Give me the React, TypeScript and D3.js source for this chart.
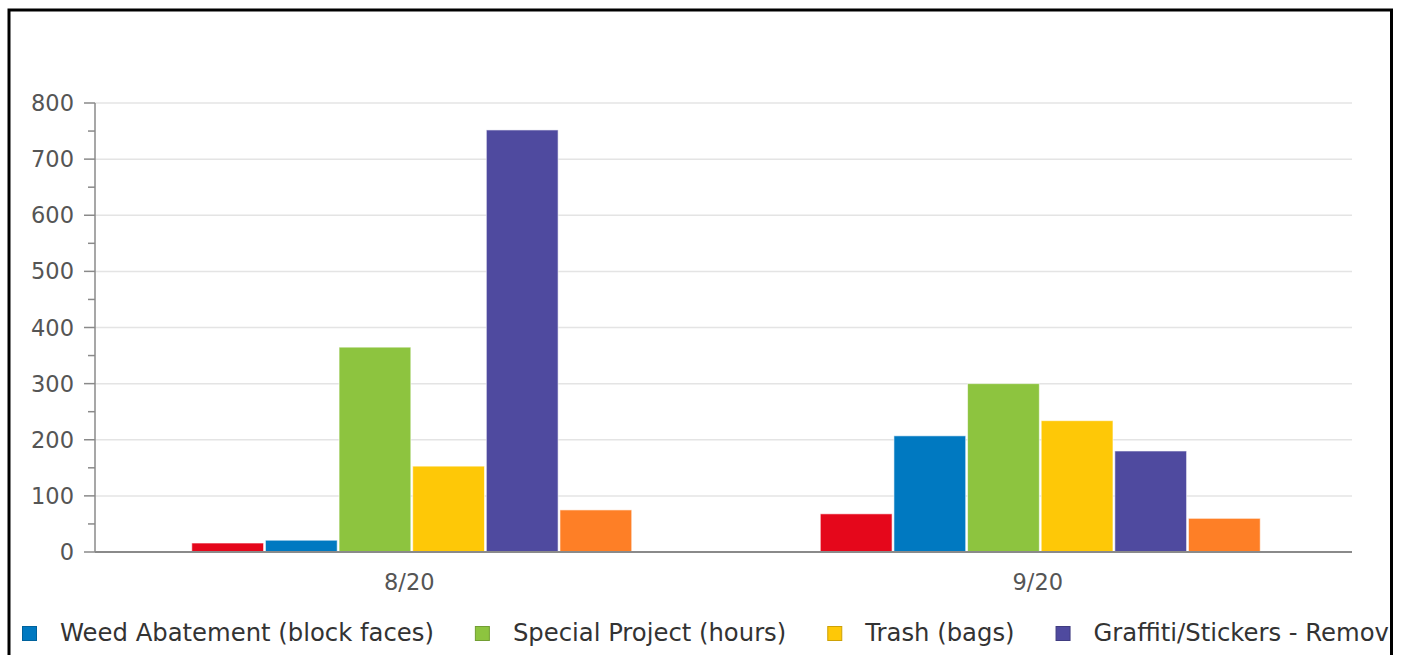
import React, { useEffect, useRef } from "react";
import * as d3 from "d3";

const categories = ["8/20", "9/20"];
const seriesNames = [
  "Cleaning (hours)",
  "Weed Abatement (block faces)",
  "Special Project (hours)",
  "Trash (bags)",
  "Graffiti/Stickers - Removal",
  "Other",
];
const seriesColors = ["#e5071b", "#0079c1", "#8dc43f", "#fec807", "#4f4a9f", "#fe7f26"];
const values: number[][] = [
  [16, 21, 365, 153, 752, 75],
  [68, 207, 300, 234, 180, 60],
];
const legendSeries = [1, 2, 3, 4];
const yTicks = [0, 100, 200, 300, 400, 500, 600, 700, 800];

export default function App() {
  const ref = useRef<SVGSVGElement>(null);
  useEffect(() => {
    const svg = d3.select(ref.current!);
    svg.selectAll("*").remove();
    const W = 1407, H = 655;
    const left = 95, right = 1352, top = 103, bottom = 552;
    const font = "DejaVu Sans, sans-serif";
    const textColor = "#555";

    const defs = svg.append("defs");
    defs.append("clipPath").attr("id", "frameClip")
      .append("rect").attr("x", 10.5).attr("y", 11.5).attr("width", 1379).attr("height", H);

    svg.append("rect").attr("width", W).attr("height", H).attr("fill", "#fff");

    const y = d3.scaleLinear().domain([0, 800]).range([bottom, top]);
    const x0 = d3.scaleBand<string>().domain(categories).range([left, right]);
    const bw = x0.bandwidth();
    const x1 = d3.scaleBand<number>().domain(d3.range(seriesNames.length))
      .range([bw * 0.154, bw * 0.854]).paddingInner(0.025);

    // grid
    svg.append("g").selectAll("line").data(yTicks.filter(t => t > 0)).join("line")
      .attr("x1", left).attr("x2", right)
      .attr("y1", d => y(d)).attr("y2", d => y(d))
      .attr("stroke", "#e4e4e4").attr("stroke-width", 1.5);

    // bars
    const g = svg.append("g");
    categories.forEach((c, ci) => {
      g.append("g").selectAll("rect").data(values[ci]).join("rect")
        .attr("x", (_, i) => x0(c)! + x1(i)!)
        .attr("y", d => y(d))
        .attr("width", x1.bandwidth())
        .attr("height", d => bottom - y(d))
        .attr("fill", (_, i) => seriesColors[i])
        .attr("stroke", "#fff").attr("stroke-width", 1).attr("stroke-opacity", 0.6);
    });

    // y axis
    const axis = svg.append("g");
    axis.append("line").attr("x1", left).attr("x2", left).attr("y1", top).attr("y2", bottom)
      .attr("stroke", "#8a8a8a").attr("stroke-width", 1.5);
    axis.selectAll("line.major").data(yTicks).join("line").attr("class", "major")
      .attr("x1", left - 11).attr("x2", left).attr("y1", d => y(d)).attr("y2", d => y(d))
      .attr("stroke", "#8a8a8a").attr("stroke-width", 1.5);
    const minor = d3.range(50, 800, 100);
    axis.selectAll("line.minor").data(minor).join("line").attr("class", "minor")
      .attr("x1", left - 7).attr("x2", left).attr("y1", d => y(d)).attr("y2", d => y(d))
      .attr("stroke", "#8a8a8a").attr("stroke-width", 1.5);
    axis.selectAll("text").data(yTicks).join("text")
      .attr("x", left - 21).attr("y", d => y(d)).attr("dy", "0.36em")
      .attr("text-anchor", "end").attr("font-family", font).attr("font-size", 22.5)
      .attr("fill", textColor).text(d => String(d));

    // x axis
    svg.append("line").attr("x1", left).attr("x2", right).attr("y1", bottom).attr("y2", bottom)
      .attr("stroke", "#8a8a8a").attr("stroke-width", 2);
    svg.append("g").selectAll("text").data(categories).join("text")
      .attr("x", d => x0(d)! + bw / 2).attr("y", bottom + 38)
      .attr("text-anchor", "middle").attr("font-family", font).attr("font-size", 22.5)
      .attr("fill", textColor).text(d => d);

    // legend
    const lg = svg.append("g").attr("clip-path", "url(#frameClip)");
    let cx = 22;
    legendSeries.forEach(si => {
      lg.append("rect").attr("x", cx + 0.5).attr("y", 626.5).attr("width", 14).attr("height", 14)
        .attr("fill", seriesColors[si])
        .attr("stroke", d3.color(seriesColors[si])!.darker(0.6).formatHex()).attr("stroke-width", 1);
      const t = lg.append("text").attr("x", cx + 38).attr("y", 641)
        .attr("font-family", font).attr("font-size", 24.3).attr("fill", "#333")
        .text(seriesNames[si]);
      const w = (t.node() as SVGTextElement).getComputedTextLength();
      cx = cx + 38 + w + 41;
    });

    // frame
    svg.append("rect").attr("x", 9).attr("y", 10).attr("width", 1382.5).attr("height", H + 20)
      .attr("fill", "none").attr("stroke", "#000").attr("stroke-width", 3);
  }, []);
  return (
    <svg ref={ref} width={1407} height={655}
      style={{ position: "absolute", left: 0, top: 0, display: "block" }} />
  );
}
